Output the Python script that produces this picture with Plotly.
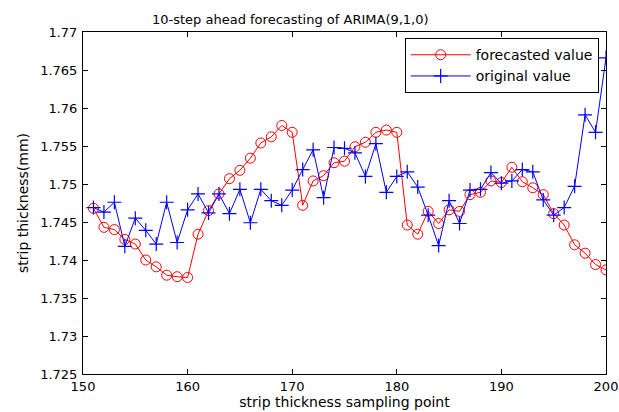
import plotly.graph_objects as go

x_points = list(range(151, 201))

forecasted = [1.7468, 1.7443, 1.7440, 1.7427, 1.7421, 1.7400, 1.7391, 1.7380, 1.7378, 1.7377,
              1.7434, 1.7465, 1.7487, 1.7507, 1.7518, 1.7534, 1.7554, 1.7562, 1.7577, 1.7568,
              1.7472, 1.7504, 1.7511, 1.7528, 1.7530, 1.7549, 1.7555, 1.7568, 1.7571, 1.7568,
              1.7446, 1.7434, 1.7464, 1.7448, 1.7466, 1.7464, 1.7486, 1.7489, 1.7504, 1.7502,
              1.7522, 1.7503, 1.7495, 1.7486, 1.7461, 1.7446, 1.7420, 1.7409, 1.7394, 1.7387]

original = [1.7469, 1.7463, 1.7476, 1.7418, 1.7455, 1.7439, 1.7421, 1.7476, 1.7423, 1.7466,
            1.7487, 1.7462, 1.7487, 1.7461, 1.7493, 1.7449, 1.7493, 1.7478, 1.7472, 1.7492,
            1.7519, 1.7545, 1.7482, 1.7548, 1.7547, 1.7541, 1.7510, 1.7553, 1.7489, 1.7510,
            1.7516, 1.7496, 1.7459, 1.7419, 1.7478, 1.7448, 1.7492, 1.7493, 1.7515, 1.7501,
            1.7504, 1.7519, 1.7516, 1.7479, 1.7459, 1.7469, 1.7497, 1.7591, 1.7568, 1.7666]

x_ticks = [150, 160, 170, 180, 190, 200]
y_ticks = [1.725, 1.73, 1.735, 1.74, 1.745, 1.75, 1.755, 1.76, 1.765, 1.77]
y_tick_labels = ["1.725", "1.73", "1.735", "1.74", "1.745", "1.75", "1.755", "1.76", "1.765", "1.77"]

FONT = "DejaVu Sans, Arial, sans-serif"

fig = go.Figure()
fig.add_trace(go.Scatter(
    x=x_points, y=forecasted, mode="lines+markers", name="forecasted value",
    line=dict(color="#ff0000", width=1),
    marker=dict(symbol="circle-open", size=10, color="#ff0000", line=dict(width=1, color="#ff0000")),
))
fig.add_trace(go.Scatter(
    x=x_points, y=original, mode="lines+markers", name="original value",
    line=dict(color="#0000ff", width=1),
    marker=dict(symbol="cross-thin-open", size=10, color="#0000ff", line=dict(width=1.2, color="#0000ff")),
))

axis_common = dict(
    showgrid=False, zeroline=False, showline=True, linecolor="black", linewidth=1,
    mirror="ticks", ticks="inside", ticklen=5, tickcolor="black", automargin=False,
    tickfont=dict(family=FONT, size=13, color="black"),
)

fig.update_layout(
    width=619, height=412,
    margin=dict(l=83, r=13, t=32, b=38),
    paper_bgcolor="white", plot_bgcolor="white",
    title=dict(text="10-step ahead forecasting of ARIMA(9,1,0)", x=0.469, xanchor="center",
               y=0.953, yanchor="middle", font=dict(family=FONT, size=13, color="black")),
    xaxis=dict(range=[150, 200], tickvals=x_ticks, ticklabelstandoff=0,
               title=dict(text="strip thickness sampling point", standoff=0,
                          font=dict(family=FONT, size=14, color="black")),
               **axis_common),
    yaxis=dict(range=[1.725, 1.77], tickvals=y_ticks, ticktext=y_tick_labels, ticklabelstandoff=2,
               title=dict(text="strip thickness(mm)", standoff=8,
                          font=dict(family=FONT, size=14, color="black")),
               **axis_common),
    legend=dict(x=0.986, y=0.982, xanchor="right", yanchor="top",
                bgcolor="white", bordercolor="black", borderwidth=1,
                font=dict(family=FONT, size=14, color="black"),
                tracegroupgap=0, itemwidth=60),
    showlegend=True,
)

fig.write_html("out.html")
